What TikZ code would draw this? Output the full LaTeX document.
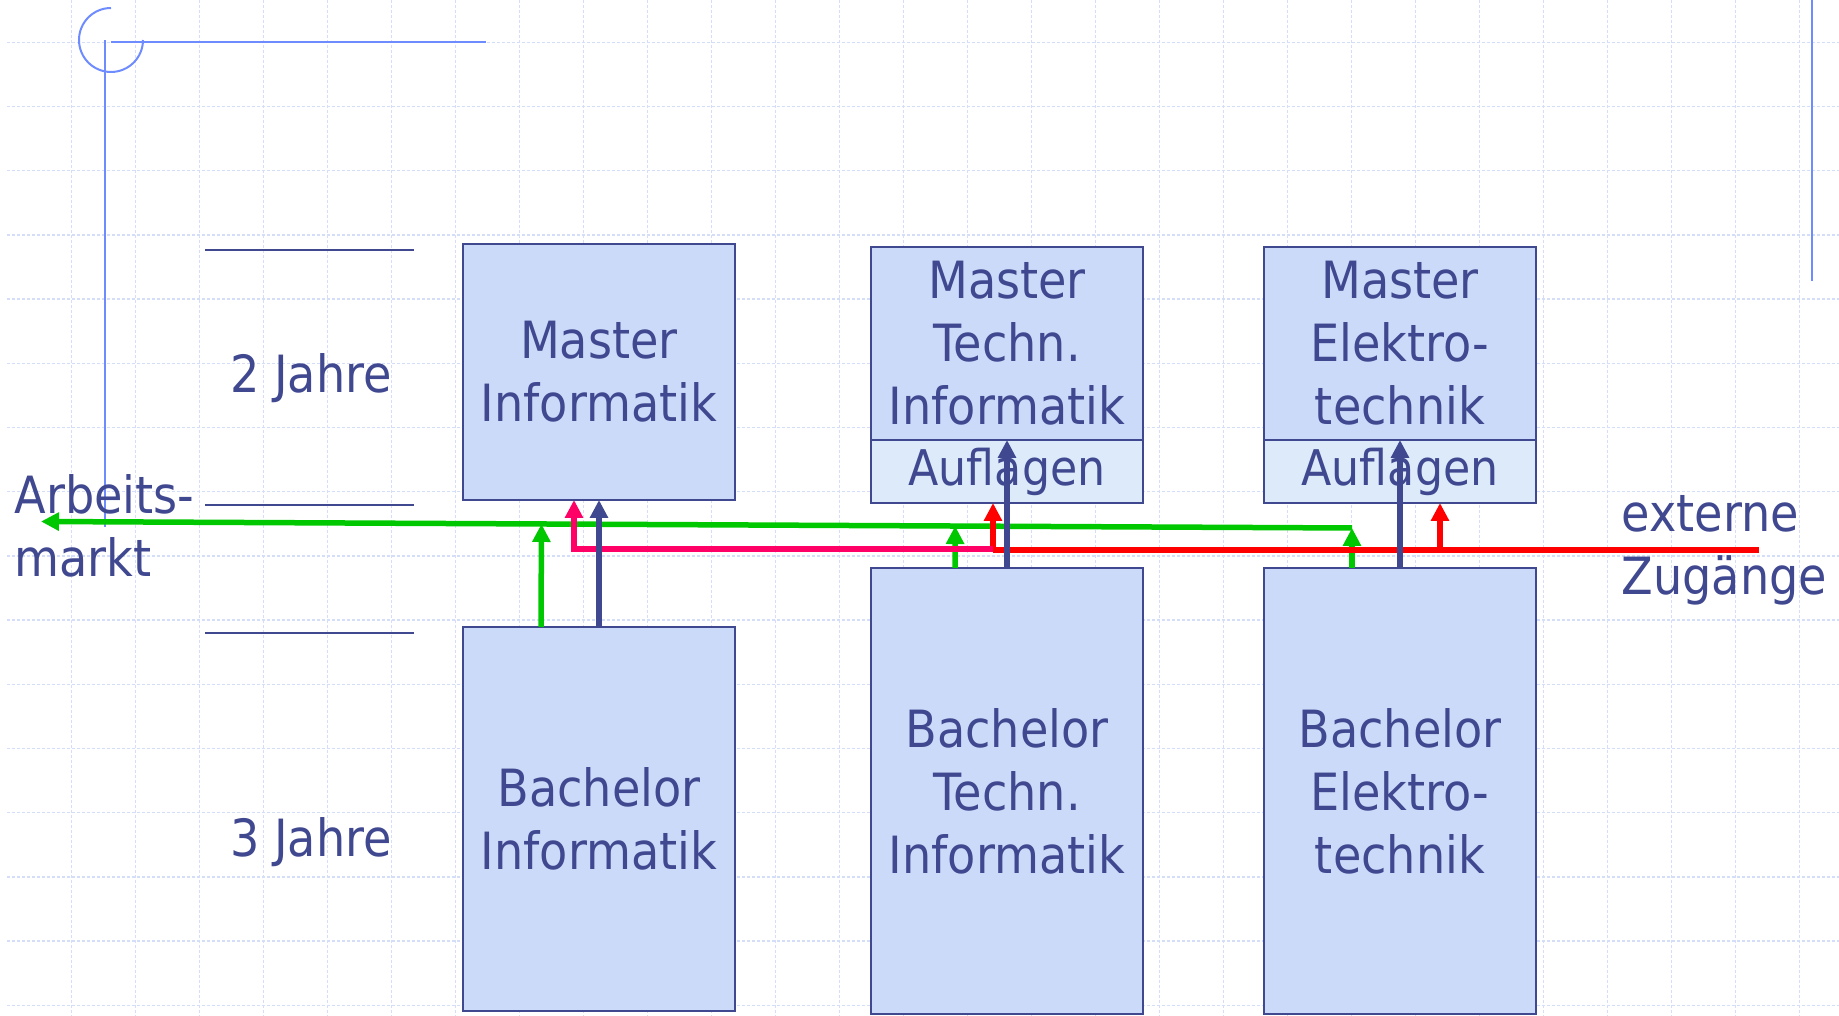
\documentclass[tikz,border=0pt]{standalone}
\usepackage{fontspec}
\setmainfont{DejaVu Sans}[FakeStretch=0.9]
\usetikzlibrary{arrows.meta,positioning,calc}
\definecolor{bmNavy}{HTML}{404890}
\definecolor{bmFill}{HTML}{CCDAFA}
\definecolor{bmSoft}{HTML}{DCEAFA}
\definecolor{bmGrid}{HTML}{D4DEF8}
\definecolor{bmDeco}{HTML}{6F8CFF}
\definecolor{bmGreen}{HTML}{00C800}
\definecolor{bmRed}{HTML}{FF0000}
\definecolor{bmPink}{HTML}{FF0066}
\tikzset{
  bmBox/.style={
    draw=bmNavy,
    fill=bmFill,
    line width=0.22mm,
    minimum width=27.2mm,
    align=center,
    inner sep=0pt,
    outer sep=0pt,
    anchor=north west,
    text=bmNavy,
    font=\fontsize{14.6pt}{17.9pt}\selectfont
  },
  bmAuf/.style={
    bmBox,
    fill=bmSoft,
    minimum height=6.3mm,
    font=\fontsize{14pt}{17pt}\selectfont
  },
  bmLabel/.style={
    text=bmNavy,
    align=left,
    inner sep=0pt,
    font=\fontsize{14.6pt}{17.9pt}\selectfont
  },
  bmRule/.style={
    draw=bmNavy,
    line width=0.28mm
  },
  bmDecoLine/.style={
    draw=bmDeco,
    line width=0.2mm
  },
  bmGridLine/.style={
    draw=bmGrid,
    line width=0.14mm,
    dash pattern=on 0.3mm off 0.2mm
  },
  bmArrow/.style={
    -{Triangle[length=1.8mm,width=1.75mm]},
    line width=0.55mm
  },
  bmJob/.style={
    bmArrow,
    draw=bmGreen
  }
}

\begin{document}
\begin{tikzpicture}[x=0.1mm,y=-0.1mm]

\fill[white] (0,0) rectangle (1839,1016);
\useasboundingbox (0,0) rectangle (1839,1016);

% Background grid and slide decoration.
\foreach \k in {1,...,28}
  \draw[bmGridLine] ({7.4+64*\k},0) -- ({7.4+64*\k},1016);
\foreach \k in {0,...,15}
  \draw[bmGridLine] (7,{42.3+64.2*\k}) -- (1839,{42.3+64.2*\k});

\draw[bmDecoLine] (111,8) arc[start angle=270, end angle=0, radius=32];
\draw[bmDecoLine] (105.4,40) -- (105.4,527);
\draw[bmDecoLine] (111,42.3) -- (486,42.3);
\draw[bmDecoLine] (1812,0) -- (1812,281);

% Duration rules.
\draw[bmRule] (205,250) -- (414,250);
\draw[bmRule] (205,505) -- (414,505);
\draw[bmRule] (205,633) -- (414,633);

\node[bmLabel] (twoYears) at (311,378) {2 Jahre};
\node[bmLabel] (threeYears) at (311,842) {3 Jahre};

% Study programmes.
\node[bmBox, minimum height=25.6mm] (mi) at (463,244)
  {Master\\Informatik};
\node[bmBox, minimum height=38.4mm] (bi) at (463,627)
  {Bachelor\\Informatik};

\node[bmBox, minimum height=19.3mm] (mti) at (871,247)
  {Master\\Techn.\\Informatik};
\node[bmAuf, below=0pt of mti] (mtiAuf) {Auflagen};
\node[bmBox, minimum height=44.6mm] (bti) at (871,568)
  {Bachelor\\Techn.\\Informatik};

\node[bmBox, minimum height=19.3mm] (met) at (1264,247)
  {Master\\Elektro-\\technik};
\node[bmAuf, below=0pt of met] (metAuf) {Auflagen};
\node[bmBox, minimum height=44.6mm] (bet) at (1264,568)
  {Bachelor\\Elektro-\\technik};

% Outside labels.
\node[bmLabel, anchor=west] (market) at (14,526) {Arbeits-\\markt};
\node[bmLabel, anchor=west] (external) at (1621,550) {externe\\Zugänge};

\coordinate (jobBus) at (41,521.5);
\coordinate (jobCorner) at ([xshift=-4.8mm]bet.north |- 0,528);
\coordinate (extIn) at (1759,550);

% Graduates to the job market.
\draw[bmJob] ([xshift=-5.8mm]bi.north)
  -- ($(jobBus)!([xshift=-5.8mm]bi.north)!(jobCorner)$);
\draw[bmJob] ([xshift=-5.2mm]bti.north)
  -- ($(jobBus)!([xshift=-5.2mm]bti.north)!(jobCorner)$);
\draw[bmJob] ([xshift=-4.8mm]bet.north) -- (jobCorner);
\draw[bmJob] (jobCorner) -- (jobBus);

% External entries.
\draw[bmRed, line width=0.55mm] (extIn) -- ([xshift=-1.4mm]mtiAuf.south |- extIn)
  coordinate (extSplit);
\draw[bmArrow, draw=bmRed] (extSplit) -- ([xshift=-1.4mm]mtiAuf.south);
\draw[bmArrow, draw=bmRed] ([xshift=4mm]metAuf.south |- extIn) -- ([xshift=4mm]metAuf.south);
\draw[bmArrow, draw=bmPink] ([yshift=0.1mm]extSplit) -| ([xshift=-2.5mm]mi.south);

% Consecutive master.
\draw[bmArrow, draw=bmNavy] (bi.north) -- (mi.south);
\draw[bmArrow, draw=bmNavy] (bti.north) -- (mti.south);
\draw[bmArrow, draw=bmNavy] (bet.north) -- (met.south);

\end{tikzpicture}
\end{document}
